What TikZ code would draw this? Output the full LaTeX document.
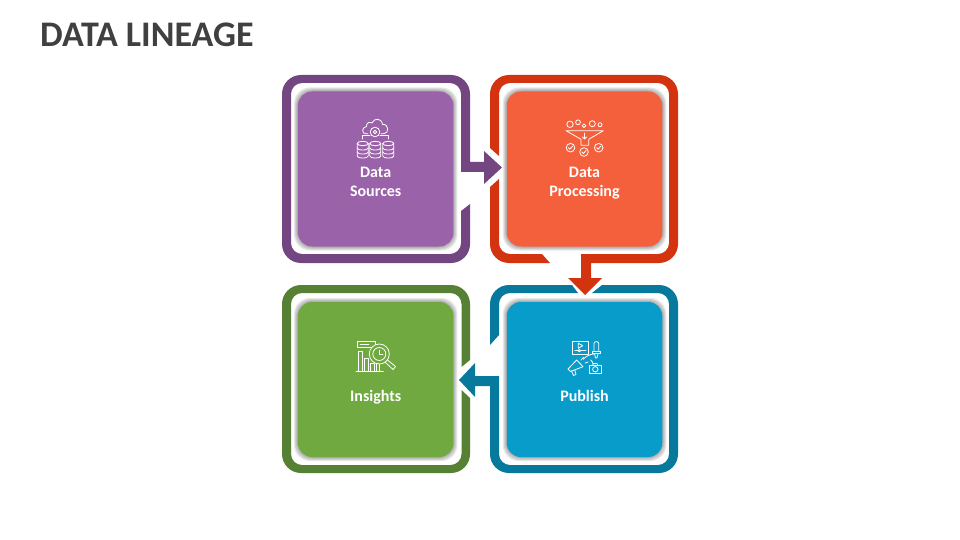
\documentclass[tikz,border=0pt]{standalone}
\usepackage{fontspec}
\setmainfont{Carlito}
\definecolor{purpleF}{HTML}{734681}
\definecolor{purpleT}{HTML}{9A62A8}
\definecolor{redF}{HTML}{D3340F}
\definecolor{redT}{HTML}{F4603C}
\definecolor{blueF}{HTML}{07799C}
\definecolor{blueT}{HTML}{089CCB}
\definecolor{greenF}{HTML}{568033}
\definecolor{greenT}{HTML}{6FA940}
\definecolor{ink}{HTML}{404040}
\tikzset{
  tilebox/.style={rounded corners=14pt,minimum width=155.5pt,minimum height=155pt,inner sep=0pt,fill=#1},
  glowbox/.style={rounded corners=16pt,fill=black,fill opacity=.09,inner sep=0pt,minimum height=155pt+2*#1,minimum width=155.5pt+2*#1},
  lab/.style={text=white,font=\fontsize{16}{19}\selectfont\bfseries,inner sep=0pt,anchor=base},
  ico/.style={draw=white,line width=.8pt,line join=round,line cap=round},
  rc/.style={rounded corners=11pt},
  rcout/.style={rounded corners=19pt}
}
\newcommand{\tile}[4]{%
  \foreach \g in {1,2,3,4}{\node[glowbox=\g] at (#2,#3) {};}
  \node[tilebox=#4] (#1) at (#2,#3) {};}
\begin{document}
\begin{tikzpicture}[x=1pt,y=-1pt]
\useasboundingbox (0,0) rectangle (960,540);
\node[text=ink,font=\fontsize{36}{42}\selectfont\bfseries,anchor=base west,inner sep=0pt] (title) at (40,46.5) {DATA LINEAGE};
% frames
\fill[purpleF] (470,162) -- (484,162) -- (484,151) -- (502,167.5) -- (484,184) -- (484,172) -- (461,172)
  [rc] -- (461,83) -- (291,83) -- (291,254) -- (461,254) [sharp corners] -- (461,211) -- (470,204)
  [rcout] -- (470,263) -- (282,263) -- (282,75) -- (470,75) [sharp corners] -- cycle;
\fill[redF] (591,263) -- (591,278) -- (602,278) -- (585,295) -- (568,278) -- (581,278) -- (581,254)
  [rc] -- (669,254) -- (669,83) -- (499,83) [sharp corners] -- (499,156) -- (490,148)
  [rcout] -- (490,75) -- (678,75) -- (678,263) [sharp corners] -- cycle;
\fill[redF] (542,254) -- (550,263) [rcout] -- (490,263) [sharp corners] -- (490,187) -- (499,179) [rc] -- (499,254) [sharp corners] -- cycle;
\fill[blueF] (572,285) [rcout] -- (490,285) [sharp corners] -- (490,345) -- (499,335) [rc] -- (499,293) [sharp corners] -- (578,293) -- cycle;
\fill[blueF] (602,285) [rcout] -- (678,285) -- (678,473) -- (490,473) [sharp corners] -- (490,386) -- (475,386) -- (475,397) -- (459,380) -- (475,363) -- (475,376) -- (499,376)
  [rc] -- (499,465) -- (669,465) -- (669,293) [sharp corners] -- (592,293) -- cycle;
\fill[greenF] (470,360) [rcout] -- (470,285) -- (282,285) -- (282,473) -- (470,473) [sharp corners] -- (470,398) -- (461.5,390)
  [rc] -- (461.5,465) -- (291,465) -- (291,293) -- (461.5,293) [sharp corners] -- (461.5,367) -- cycle;
% tiles
\tile{sources}{375.7}{169}{purpleT}
\tile{processing}{584.5}{169}{redT}
\tile{publish}{584.5}{379.5}{blueT}
\tile{insights}{375.7}{379.5}{greenT}
% labels
\node[lab] (l1a) at (375.7,177.5) {Data};
\node[lab] (l1b) at (375.7,196.5) {Sources};
\node[lab] (l2a) at (584.5,177.5) {Data};
\node[lab] (l2b) at (584.5,196.5) {Processing};
\node[lab] (l3) at (584.5,401) {Publish};
\node[lab] (l4) at (375.7,401) {Insights};
% icon: data sources
\draw[ico] (368,133.8) -- (366,133.8) .. controls (361.5,133.8) and (361.5,127) .. (366.5,126.5) .. controls (366,122.5) and (370,121.5) .. (372,123) .. controls (374,117.5) and (382,118) .. (382.5,124.5) .. controls (389,123.5) and (389.5,133.8) .. (383.5,133.8) -- (381,133.8);
\draw[ico] (375,132) circle[radius=4.8pt] (375,132) circle[radius=1.8pt];
\draw[ico] (370,135.5) -- (362.7,135.5) -- (362.7,139);
\draw[ico] (380,135.5) -- (388.3,135.5) -- (388.3,139);
\foreach \cx in {362.7,375.3,388.3}{
  \draw[ico] (\cx,143.5) ellipse[x radius=5.5pt,y radius=2.2pt];
  \draw[ico] (\cx-5.5,143.5) -- (\cx-5.5,156) .. controls (\cx-5.5,158.8) and (\cx+5.5,158.8) .. (\cx+5.5,156) -- (\cx+5.5,143.5);
  \draw[ico] (\cx-5.5,148) .. controls (\cx-5.5,150.8) and (\cx+5.5,150.8) .. (\cx+5.5,148);
  \draw[ico] (\cx-5.5,152) .. controls (\cx-5.5,154.8) and (\cx+5.5,154.8) .. (\cx+5.5,152);
}
% icon: funnel
\draw[ico] (570,124.3) circle[radius=3.2pt] (578,122.3) circle[radius=2.4pt] (584,125.7) circle[radius=1.8pt] (592.3,123.7) circle[radius=3pt] (600,124.7) circle[radius=2pt];
\draw[ico] (566,130.7) -- (603.3,130.7) -- (588.7,139.3) -- (588.7,145.3) -- (581,145.3) -- (581,139.3) -- cycle;
\draw[ico] (584.5,133) -- (584.5,139) (582.5,137) -- (584.5,139) -- (586.5,137);
\foreach \cx/\cy in {570.5/147.7,584/152,598.7/147.7}{
  \draw[ico] (\cx,\cy) circle[radius=4.3pt];
  \draw[ico] (\cx-2,\cy) -- (\cx-.5,\cy+1.5) -- (\cx+2,\cy-1.5);
}
% icon: insights
\draw[ico] (356,371.7) -- (383.3,371.7);
\draw[ico] (358.3,371.7) -- (358.3,351.7) -- (362.7,351.7) -- (362.7,371.7);
\draw[ico] (364,371.7) -- (364,358.3) -- (368.3,358.3) -- (368.3,371.7);
\draw[ico] (370,371.7) -- (370,363.3) -- (374,363.3) -- (374,371.7);
\draw[ico] (376,371.7) -- (376,361.7) -- (379.3,361.7) -- (379.3,371.7);
\draw[ico] (357.3,341.7) rectangle (375,347.3);
\draw[ico] (360,344.5) -- (369,344.5);
\fill[greenT] (379.3,354) circle[radius=10pt];
\draw[ico] (379.3,354) circle[radius=10pt] (379.3,354) circle[radius=6.5pt];
\draw[ico] (379.3,354) -- (379.3,350) (379.3,354) -- (383,354);
\draw[ico] (387.5,360) -- (395.5,366.5) -- (393,369.5) -- (385.5,362.5);
% icon: publish
\draw[ico] (572.3,341) rectangle (588.3,354);
\draw[ico] (578.3,343.3) -- (578.3,348.3) -- (582.7,345.7) -- cycle;
\draw[ico] (574.7,350.7) -- (586,350.7);
\draw[ico,fill=blueT] (579.3,350.7) circle[radius=1.2pt];
\draw[ico] (594,351) -- (594,343.5) .. controls (594,341) and (598.7,341) .. (598.7,343.5) -- (598.7,351);
\draw[ico] (592.7,351) -- (600,351) -- (600,353.5) -- (592.7,353.5) -- cycle;
\draw[ico] (594.5,353.5) -- (595.5,358) -- (597,358) -- (598,353.5);
\draw[ico] (583.3,359.3) .. controls (586,356) and (590,354.5) .. (593.5,354);
\draw[ico] (590.7,360) .. controls (592,361) and (592.8,362.5) .. (593,364);
\draw[ico] (576.7,360) -- (583,366.7) -- (570.5,371.5) -- (568,369) -- cycle;
\draw[ico] (571.5,371) -- (573.5,375.5) -- (576,374.5) -- (574.8,370);
\draw[ico] (581,360) -- (583.5,357.5) (585,363) -- (588,362);
\draw[ico] (589,365.5) rectangle (601.7,373.3);
\draw[ico] (592.5,365.5) -- (593.5,363.5) -- (597,363.5) -- (598,365.5);
\draw[ico] (595.3,369.3) circle[radius=2.7pt];
\end{tikzpicture}
\end{document}
